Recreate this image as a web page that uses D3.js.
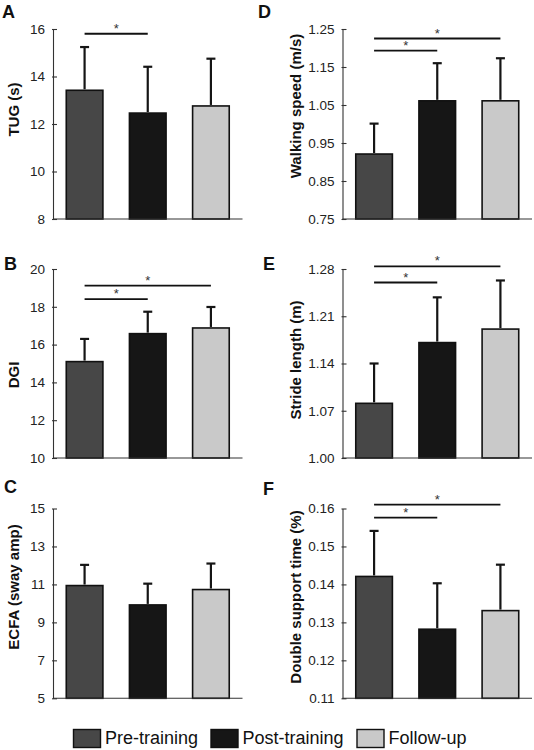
<!DOCTYPE html>
<html><head><meta charset="utf-8">
<script src="https://cdn.jsdelivr.net/npm/d3@7"></script>
<style>
html,body{margin:0;padding:0;background:#fff;}
svg{display:block;}
</style></head>
<body>
<svg id="chart" width="534" height="750"></svg>
<script>
// ---------- data ----------
const categories = ["Pre-training", "Post-training", "Follow-up"];

const tugMean = [13.42, 12.46, 12.76];
const tugSD = [1.82, 1.95, 1.99];
const tugTicks = [8, 10, 12, 14, 16];
const tugSig = [[0, 1, 15.8]];

const dgiMean = [15.1, 16.58, 16.88];
const dgiSD = [1.2, 1.16, 1.11];
const dgiTicks = [10, 12, 14, 16, 18, 20];
const dgiSig = [[0, 1, 18.41], [0, 2, 19.12]];

const ecfaMean = [10.94, 9.92, 10.73];
const ecfaSD = [1.09, 1.12, 1.37];
const ecfaTicks = [5, 7, 9, 11, 13, 15];
const ecfaSig = [];

const speedMean = [0.921, 1.061, 1.061];
const speedSD = [0.08, 0.099, 0.112];
const speedTicks = [0.75, 0.85, 0.95, 1.05, 1.15, 1.25];
const speedSig = [[0, 1, 1.193], [0, 2, 1.225]];

const strideMean = [1.081, 1.171, 1.191];
const strideSD = [0.059, 0.067, 0.072];
const strideTicks = [1.00, 1.07, 1.14, 1.21, 1.28];
const strideSig = [[0, 1, 1.260], [0, 2, 1.284]];

const dstMean = [0.1421, 0.1282, 0.1331];
const dstSD = [0.012, 0.0121, 0.0121];
const dstTicks = [0.11, 0.12, 0.13, 0.14, 0.15, 0.16];
const dstSig = [[0, 1, 0.1576], [0, 2, 0.1610]];

// ---------- layout ----------
const colors = ["#474747", "#161616", "#c9c9c9"];
const cols = [{x0: 53, x1: 242.5}, {x0: 342.5, x1: 532}];
const rows = [{y0: 29, y1: 219}, {y0: 269, y1: 458}, {y0: 508.5, y1: 698.3}];

const panels = [
  {letter: "A", title: "TUG (s)", mean: tugMean, sd: tugSD, ticks: tugTicks, fmt: d3.format("d"), sig: tugSig, c: 0, r: 0, lx: 2, ly: 17.5, tx: 13, ty: 109.5},
  {letter: "B", title: "DGI", mean: dgiMean, sd: dgiSD, ticks: dgiTicks, fmt: d3.format("d"), sig: dgiSig, c: 0, r: 1, lx: 4, ly: 270, tx: 13, ty: 375},
  {letter: "C", title: "ECFA (sway amp)", mean: ecfaMean, sd: ecfaSD, ticks: ecfaTicks, fmt: d3.format("d"), sig: ecfaSig, c: 0, r: 2, lx: 4, ly: 493, tx: 13, ty: 587},
  {letter: "D", title: "Walking speed (m/s)", mean: speedMean, sd: speedSD, ticks: speedTicks, fmt: d3.format(".2f"), sig: speedSig, c: 1, r: 0, lx: 258, ly: 17.5, tx: 295, ty: 106},
  {letter: "E", title: "Stride length (m)", mean: strideMean, sd: strideSD, ticks: strideTicks, fmt: d3.format(".2f"), sig: strideSig, c: 1, r: 1, lx: 263, ly: 270, tx: 295, ty: 360},
  {letter: "F", title: "Double support time (%)", mean: dstMean, sd: dstSD, ticks: dstTicks, fmt: d3.format(".2f"), sig: dstSig, c: 1, r: 2, lx: 263, ly: 495, tx: 295, ty: 597}
];

const svg = d3.select("#chart");

panels.forEach(p => {
  const col = cols[p.c], row = rows[p.r];
  const x = d3.scaleBand().domain(categories).range([col.x0, col.x1])
    .paddingInner(0.42).paddingOuter(0.21);
  const y = d3.scaleLinear().domain([p.ticks[0], p.ticks[p.ticks.length - 1]]).range([row.y1, row.y0]);
  const g = svg.append("g");

  // bars
  g.selectAll("rect.bar").data(p.mean).join("rect")
    .attr("class", "bar")
    .attr("x", (d, i) => x(categories[i]))
    .attr("width", x.bandwidth())
    .attr("y", d => y(d))
    .attr("height", d => y(p.ticks[0]) - y(d))
    .attr("fill", (d, i) => colors[i])
    .attr("stroke", "#111").attr("stroke-width", 1.6);

  // error bars (upper only)
  p.mean.forEach((m, i) => {
    const cx = x(categories[i]) + x.bandwidth() / 2;
    g.append("line").attr("x1", cx).attr("x2", cx)
      .attr("y1", y(m) - 1).attr("y2", y(m + p.sd[i]))
      .attr("stroke", "#151515").attr("stroke-width", 2.2);
    g.append("line").attr("x1", cx - 4.5).attr("x2", cx + 4.5)
      .attr("y1", y(m + p.sd[i])).attr("y2", y(m + p.sd[i]))
      .attr("stroke", "#151515").attr("stroke-width", 2.2);
  });

  // y axis
  const ax = g.append("g").attr("transform", `translate(${col.x0},0)`)
    .call(d3.axisLeft(y).tickValues(p.ticks).tickFormat(p.fmt).tickSizeInner(-4).tickSizeOuter(0).tickPadding(8));
  ax.select(".domain").attr("stroke", "#333").attr("stroke-width", 1.1);
  ax.selectAll(".tick line").attr("stroke", "#333").attr("stroke-width", 1.1).attr("x1", -1);
  ax.selectAll(".tick text").attr("font-family", "'Liberation Sans', Arial, sans-serif")
    .attr("font-size", 13.5).attr("fill", "#222");

  // x baseline
  g.append("line").attr("x1", col.x0).attr("x2", col.x1)
    .attr("y1", row.y1).attr("y2", row.y1)
    .attr("stroke", "#333").attr("stroke-width", 1.1);

  // significance lines
  p.sig.forEach(s => {
    const xa = x(categories[s[0]]) + x.bandwidth() / 2;
    const xb = x(categories[s[1]]) + x.bandwidth() / 2;
    const yy = y(s[2]);
    g.append("line").attr("x1", xa).attr("x2", xb).attr("y1", yy).attr("y2", yy)
      .attr("stroke", "#111").attr("stroke-width", 1.8);
    g.append("text").attr("x", (xa + xb) / 2).attr("y", yy - 1)
      .attr("text-anchor", "middle")
      .attr("font-family", "'Liberation Sans', Arial, sans-serif")
      .attr("font-size", 13).attr("fill", "#333").text("*");
  });

  // y title
  g.append("text")
    .attr("transform", `translate(${p.tx},${p.ty}) rotate(-90)`)
    .attr("text-anchor", "middle").attr("dominant-baseline", "central")
    .attr("font-family", "'Liberation Sans', Arial, sans-serif")
    .attr("font-weight", "bold").attr("font-size", 15).attr("fill", "#111")
    .text(p.title);

  // panel letter
  g.append("text").attr("x", p.lx).attr("y", p.ly)
    .attr("font-family", "'Liberation Sans', Arial, sans-serif")
    .attr("font-weight", "bold").attr("font-size", 18).attr("fill", "#111")
    .text(p.letter);
});

// ---------- legend ----------
const legendX = [73.5, 211, 357];
const lg = svg.append("g");
categories.forEach((c, i) => {
  lg.append("rect").attr("x", legendX[i]).attr("y", 729.5)
    .attr("width", 27).attr("height", 18)
    .attr("fill", colors[i]).attr("stroke", "#111").attr("stroke-width", 1.4);
  lg.append("text").attr("x", legendX[i] + 31.5).attr("y", 744)
    .attr("font-family", "'Liberation Sans', Arial, sans-serif")
    .attr("font-size", 18).attr("fill", "#111").text(c);
});
</script>
</body></html>
